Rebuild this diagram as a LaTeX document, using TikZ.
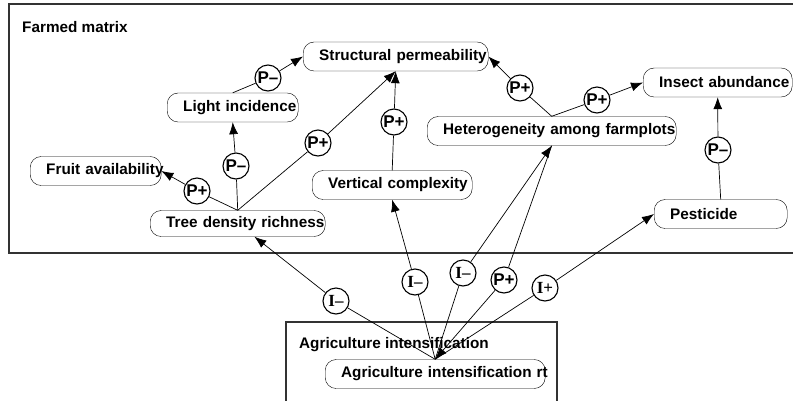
\documentclass[tikz,border=0pt]{standalone}
\usepackage{fontspec}
\setmainfont{Liberation Sans}
\newfontfamily\serifI{Liberation Serif}
\usetikzlibrary{arrows.meta}
\newcommand\vname[1]{\hspace*{16pt}\mbox{#1}}
\begin{document}
\begin{tikzpicture}[x=1pt,y=-1pt,
  var/.style={draw, rounded corners=11pt, anchor=west, minimum height=29pt,
    inner xsep=0pt, inner ysep=0pt, text width=#1, align=left,
    font=\fontsize{15.3}{18}\selectfont\bfseries},
  pol/.style={draw, circle, minimum size=26pt, inner sep=0pt, line width=1.1pt,
    font=\fontsize{17}{18}\selectfont\bfseries},
  ipol/.style={pol, font=\fontsize{17}{18}\selectfont\serifI\bfseries},
  title/.style={anchor=west, inner sep=0pt, font=\fontsize{15.3}{18}\selectfont\bfseries},
  link/.style={line width=0.7pt},
  arr/.style={link, -{Latex[length=12pt,width=9pt]}},
  frame/.style={draw=black!80, line width=1.2pt}]
  \useasboundingbox (0,0) rectangle (793,400);
  % sector frames
  \draw[frame] (9,4) rectangle (800,253);
  \draw[frame] (286,322) rectangle (557,410);
  \node[title] (fmlabel) at (22,27) {Farmed matrix};
  \node[title] (ailabel) at (299,345) {Agriculture intensification};

  % variables
  \node[var=185pt] (struct) at (303,56.5) {\vname{Structural permeability}};
  \node[var=131pt] (light) at (167,107.5) {\vname{Light incidence}};
  \node[var=131pt] (fruit) at (30,171) {\vname{Fruit availability}};
  \node[var=175pt, minimum height=26pt] (tree) at (150,223.5) {\vname{Tree density richness}};
  \node[var=160pt] (vert) at (312,185) {\vname{Vertical complexity}};
  \node[var=249pt] (hetero) at (427,131) {\vname{Heterogeneity among farmplots}};
  \node[var=149pt] (insect) at (643,82.5) {\vname{Insect abundance}};
  \node[var=133pt] (pest) at (654,214) {\vname{Pesticide}};
  \node[var=220pt] (agri) at (325,374) {\vname{Agriculture intensification rt}};

  % polarities
  \node[pol] (lsP) at (268,78) {P–};
  \node[pol] (tlP) at (236,166) {P–};
  \node[pol] (tfP) at (197,191) {P+};
  \node[pol] (tsP) at (318,143) {P+};
  \node[pol] (vsP) at (394,122) {P+};
  \node[pol] (hsP) at (520,88) {P+};
  \node[pol] (hiP) at (597,100) {P+};
  \node[pol] (piP) at (718,150) {P–};
  \node[ipol] (atI) at (336,301) {I–};
  \node[ipol] (avI) at (415,282) {I–};
  \node[ipol] (ahI) at (463,273) {I–};
  \node[pol] (haP) at (504,280) {P+};
  \node[ipol] (apI) at (545,288) {I+};

  % links
  \draw[link] (light.north) -- (lsP);
  \draw[arr] (lsP) -- (struct.west);
  \draw[link] (tree.north) -- (tfP);
  \draw[arr] (tfP) -- (fruit.east);
  \draw[link] (tree.north) -- (tlP);
  \draw[arr] (tlP) -- (light.south);
  \draw[link] (tree.north) -- (tsP);
  \draw[arr] (tsP) -- (struct.south);
  \draw[link] (vert.north) -- (vsP);
  \draw[arr] (vsP) -- (struct.south);
  \draw[link] (hetero.north) -- (hsP);
  \draw[arr] (hsP) -- (struct.east);
  \draw[link] (hetero.north) -- (hiP);
  \draw[arr] (hiP) -- (insect.west);
  \draw[link] (pest.north) -- (piP);
  \draw[arr] (piP) -- (insect.south);
  \draw[link] (agri.north) -- (atI);
  \draw[arr] (atI) -- (tree);
  \draw[link] (agri.north) -- (avI);
  \draw[arr] (avI) -- (vert.south);
  \draw[link] (agri.north) -- (ahI);
  \draw[arr] (ahI) -- (hetero.south);
  \draw[link] (hetero.south) -- (haP);
  \draw[arr] (haP) -- (agri.north);
  \draw[link] (agri.north) -- (apI);
  \draw[arr] (apI) -- (pest.west);
\end{tikzpicture}
\end{document}
